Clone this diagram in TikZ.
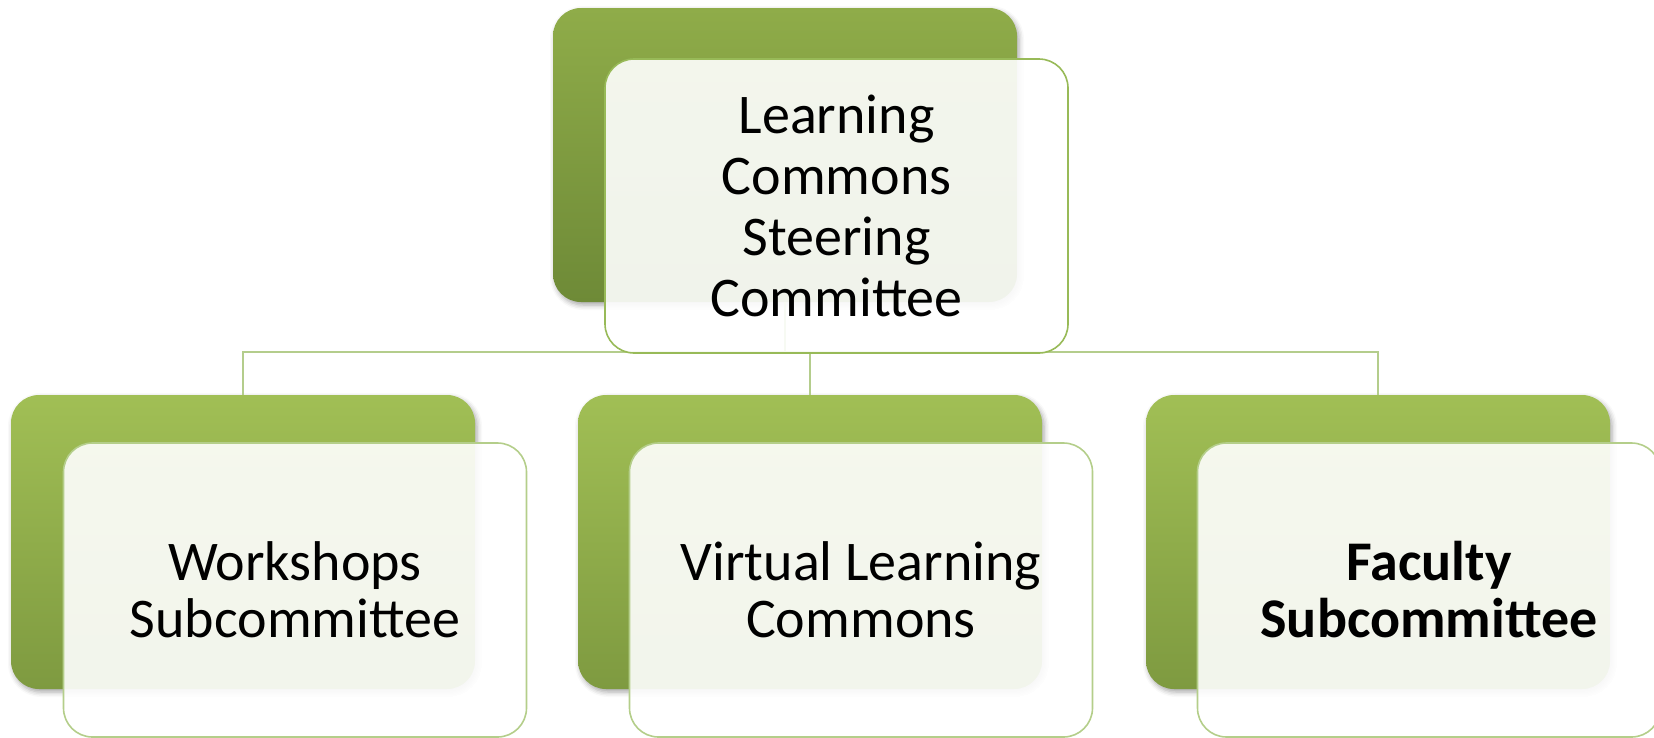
\documentclass[tikz,border=0pt]{standalone}
\usepackage{fontspec}
\setmainfont{Carlito}
\usetikzlibrary{shadows.blur}
\definecolor{gTopT}{RGB}{143,172,73}
\definecolor{gTopB}{RGB}{110,138,55}
\definecolor{gSubT}{RGB}{161,191,85}
\definecolor{gSubB}{RGB}{126,154,64}
\definecolor{cardTop}{RGB}{152,186,88}
\definecolor{cardSub}{RGB}{180,206,138}
\definecolor{connline}{RGB}{180,205,140}
\begin{document}
\begin{tikzpicture}[x=1pt,y=-1pt,
  greenbox/.style={rounded corners=28pt, minimum width=464pt, minimum height=294pt, inner sep=0pt,
    blur shadow={shadow xshift=2pt, shadow yshift=-3pt, shadow blur radius=5pt, shadow opacity=35}},
  topgreen/.style={greenbox, top color=gTopT, bottom color=gTopB},
  subgreen/.style={greenbox, top color=gSubT, bottom color=gSubB},
  card/.style={rounded corners=29pt, minimum width=463pt, minimum height=294pt, inner sep=0pt,
    fill=white, fill opacity=0.9, text opacity=1, line width=1.6pt, align=center, text=black},
  topcard/.style={card, draw=cardTop, font=\fontsize{56}{61}\selectfont},
  subcard/.style={card, draw=cardSub, font=\fontsize{56}{57}\selectfont},
  conn/.style={draw=connline, line width=1.6pt}]
\useasboundingbox (0,0) rectangle (1654,737);
\clip (0,0) rectangle (1654,737);
% green back panels
\node[topgreen] (g0) at (785,155) {};
\node[subgreen] (g1) at (243,542) {};
\node[subgreen] (g2) at (810,542) {};
\node[subgreen] (g3) at (1378,542) {};
% connectors (behind the cards)
\coordinate (bar) at (785,352);
\draw[conn] (g0.south) -- (bar);
\draw[conn] (g1.north) |- (bar) -| (g3.north);
\draw[conn] (g2.north) -- (g2.north |- bar);
% front cards
\node[topcard] (w0) at (836.5,206) {Learning\\Commons\\Steering\\Committee};
\node[subcard] (w1) at (295,590) {Workshops\\Subcommittee};
\node[subcard] (w2) at (861,590) {Virtual Learning\\Commons};
\node[subcard] (w3) at (1429,590) {\bfseries Faculty\\\bfseries Subcommittee};
\end{tikzpicture}
\end{document}
